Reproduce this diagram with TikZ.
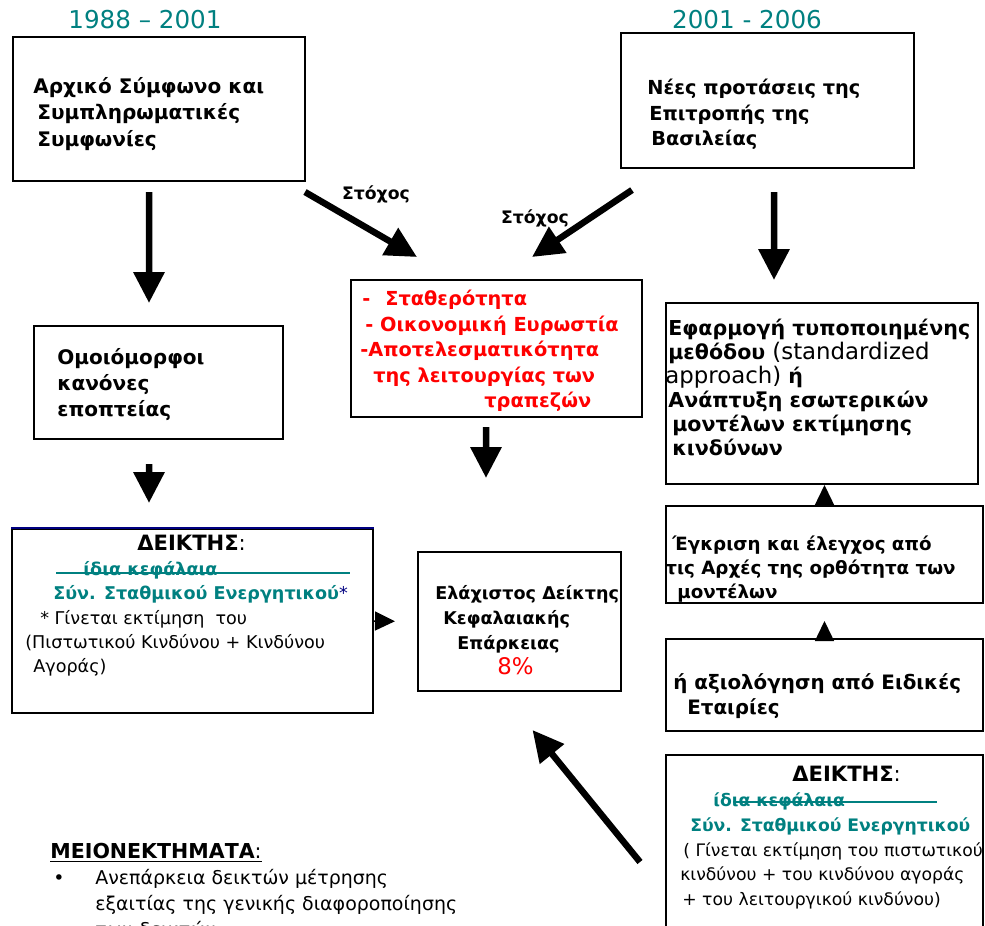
\documentclass[tikz,border=0pt]{standalone}
\usepackage{fontspec}
\setmainfont{DejaVu Sans}
\usepackage{tikz}
\usetikzlibrary{arrows.meta}
\usetikzlibrary{calc}

\definecolor{yearteal}{RGB}{0,128,128}
\definecolor{goalred}{RGB}{255,0,0}
\definecolor{starnavy}{RGB}{0,0,128}

\newcommand{\headfont}{\fontsize{11}{14.5}\selectfont\bfseries}
\newcommand{\ratiofont}{\fontsize{10}{13.9}\selectfont}
\newcommand{\ratiohead}{\fontsize{12}{13.9}\selectfont\textbf{ΔΕΙΚΤΗΣ}:}
\newcommand{\plainbig}[1]{{\fontsize{13}{13.6}\selectfont\mdseries #1}}

\tikzset{
  box/.style={draw, line width=0.4mm, inner sep=0pt, anchor=north west},
  boxtext/.style={inner sep=0pt, anchor=north west, align=left, font=\headfont},
  ratiotext/.style={inner sep=0pt, anchor=north west, align=left, font=\ratiofont},
  bigarrow/.style={line width=1.3mm, -{Triangle[length=6.2mm,width=6mm]}},
  smallarrow/.style={line width=0.3mm, -{Triangle[length=4mm,width=3.8mm]}},
}

\begin{document}
\begin{tikzpicture}[x=0.2mm,y=-0.2mm]
\useasboundingbox (0,0) rectangle (985,926);

\node[font=\fontsize{14}{16}\selectfont, text=yearteal] (y1) at (145,20) {1988 – 2001};
\node[font=\fontsize{14}{16}\selectfont, text=yearteal] (y2) at (747,20) {2001 - 2006};

\node[box, minimum width=58.4mm, minimum height=28.8mm] (b1) at (12,36) {};
\node[boxtext, font=\fontsize{11.4}{15}\selectfont\bfseries] (t1) at (33,77) {Αρχικό Σύμφωνο και\\\hspace{0.8mm}Συμπληρωματικές\\\hspace{0.8mm}Συμφωνίες};

\node[box, minimum width=58.6mm, minimum height=27mm] (b2) at (620,32) {};
\node[boxtext] (t2) at (647,79) {Νέες προτάσεις της\\\hspace{0.4mm}Επιτροπής της\\\hspace{0.8mm}Βασιλείας};

\node[box, minimum width=58.2mm, minimum height=27.4mm] (red) at (350,279) {};
\node[boxtext, text=goalred] (tr) at (360,290) {\hspace{0.4mm}-\hspace{3mm}Σταθερότητα\\\hspace{1mm}- Οικονομική Ευρωστία\\-Αποτελεσματικότητα\\\hspace{2.6mm}της λειτουργίας των\\\hspace{24.8mm}τραπεζών};

\node[box, minimum width=49.8mm, minimum height=22.6mm] (b4) at (33,325) {};
\node[boxtext, font=\fontsize{11.4}{14.8}\selectfont\bfseries] (t4) at (57,348) {Ομοιόμορφοι\\κανόνες\\εποπτείας};

\node[box, minimum width=62.4mm, minimum height=36.2mm] (b5) at (665,302) {};
\node[boxtext, font=\fontsize{11.7}{13.6}\selectfont\bfseries] (t5) at (665,319) {\hspace{0.6mm}Εφαρμογή τυποποιημένης\\\hspace{0.6mm}μεθόδου \plainbig{(standardized}\\\plainbig{approach)} ή\\\hspace{0.6mm}Ανάπτυξη εσωτερικών\\\hspace{1.4mm}μοντέλων εκτίμησης\\\hspace{1.4mm}κινδύνων};

\node[box, minimum width=72.2mm, minimum height=36.8mm] (dl) at (11,528) {};
\draw[starnavy, line width=0.4mm] (dl.north west) -- (dl.north east);
\node[ratiotext] (td) at (25,535) {\hspace{22.4mm}\ratiohead\\\hspace{11.6mm}\textcolor{yearteal}{\textbf{ίδια κεφάλαια}}\\\hspace{5.6mm}\textcolor{yearteal}{\textbf{Σύν. Σταθμικού Ενεργητικού}}\textcolor{starnavy}{*}\\\hspace{3mm}* Γίνεται εκτίμηση\ \ του\\(Πιστωτικού Κινδύνου + Κινδύνου\\\hspace{1.6mm}Αγοράς)};
\draw[yearteal, line width=0.3mm] ([shift={(45,45)}]dl.north west) -- ++(294,0);

\node[box, minimum width=40.6mm, minimum height=27.8mm] (cap) at (417,551) {};
\node[boxtext, font=\fontsize{10}{14.3}\selectfont\bfseries] (tc) at (435,585) {Ελάχιστος Δείκτης\\\hspace{1.6mm}Κεφαλαιακής\\\hspace{4.4mm}Επάρκειας\\\hspace{12.4mm}\textcolor{goalred}{\fontsize{13}{14.3}\selectfont\mdseries 8\%}};

\node[box, minimum width=63.4mm, minimum height=19.4mm] (ev) at (665,505) {};
\node[boxtext, font=\fontsize{10.4}{13.4}\selectfont\bfseries] (te) at (665,536) {\hspace{1.4mm}Έγκριση και έλεγχος από\\τις Αρχές της ορθότητα των\\\hspace{2.4mm}μοντέλων};

\node[box, minimum width=63.4mm, minimum height=18.4mm] (ea) at (665,638) {};
\node[boxtext, font=\fontsize{11.3}{14.2}\selectfont\bfseries] (ta) at (673,673) {ή αξιολόγηση από Ειδικές\\\hspace{2.8mm}Εταιρίες};

\node[box, minimum width=63.4mm, minimum height=40mm] (br) at (665,754) {};
\node[ratiotext, font=\fontsize{9.8}{14.1}\selectfont] (tb) at (680,766) {\hspace{22.4mm}\ratiohead\\\hspace{6.6mm}\textcolor{yearteal}{\textbf{ίδια κεφάλαια}}\\\hspace{2mm}\textcolor{yearteal}{\textbf{Σύν. Σταθμικού Ενεργητικού}}\\\hspace{0.6mm}( Γίνεται εκτίμηση του πιστωτικού\\κινδύνου + του κινδύνου αγοράς\\\hspace{0.4mm}+ του λειτουργικού κινδύνου)};
\draw[yearteal, line width=0.3mm] ([shift={(68,48)}]br.north west) -- ++(204,0);

\node[font=\fontsize{9.8}{12}\selectfont\bfseries] (g1) at (376,194) {Στόχος};
\node[font=\fontsize{9.8}{12}\selectfont\bfseries] (g2) at (535,218) {Στόχος};

\node[inner sep=0pt, anchor=north west, align=left, font=\fontsize{10.8}{14.7}\selectfont] (mn) at (50,843) {\underline{\fontsize{11.7}{14.7}\selectfont\textbf{ΜΕΙΟΝΕΚΤΗΜΑΤΑ}:}\\\makebox[9mm][l]{\hspace{0.6mm}•}Ανεπάρκεια δεικτών μέτρησης\\\hspace{9mm}εξαιτίας της γενικής διαφοροποίησης\\\hspace{9mm}των δεικτών};

\draw[bigarrow, shorten <=2mm, shorten >=4.4mm] ([xshift=-2mm]b1.south) -- ([xshift=-1.9mm]b4.north);
\draw[bigarrow, shorten <=4.8mm, shorten >=5mm] ([xshift=-1.9mm]b4.south) -- ([xshift=-8.7mm]dl.north);
\draw[bigarrow] ([shift={(-1,10)}]b1.south east) -- ([shift={(67,-22)}]red.north west);
\draw[bigarrow] ([shift={(12,21)}]b2.south west) -- ([shift={(-111,-22)}]red.north east);
\draw[bigarrow, shorten <=1.8mm, shorten >=14.6mm] ([xshift=-2.1mm]red.south) -- ([xshift=-6.7mm]cap.north);
\draw[bigarrow, shorten <=4.6mm, shorten >=4.4mm] ([xshift=1.3mm]b2.south) -- ([xshift=-9.6mm]b5.north);
\draw[bigarrow] ([shift={(-25,108)}]br.north west) -- ([shift={(13,38)}]cap.south);

\draw[smallarrow] (ev.north) -- (ev.north |- b5.south);
\draw[smallarrow, shorten >=3.4mm] (ea.north) -- (ea.north |- ev.south);
\draw[smallarrow, shorten >=4.4mm] (dl.east) -- (cap.west);

\end{tikzpicture}
\end{document}
